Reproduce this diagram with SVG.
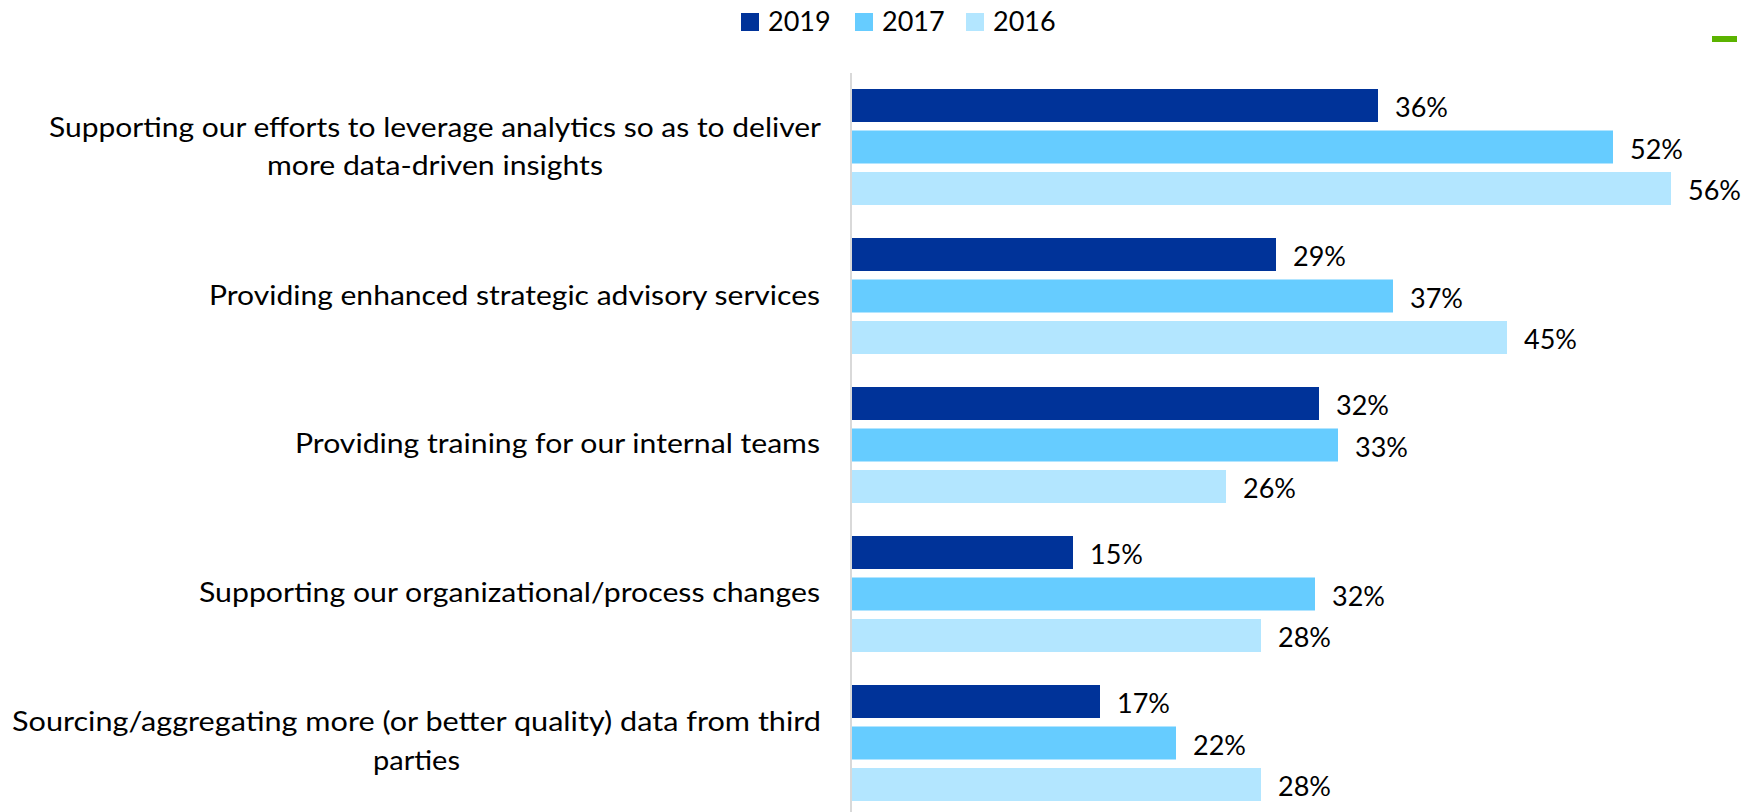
<svg xmlns="http://www.w3.org/2000/svg" width="1752" height="812" viewBox="0 0 1752 812">
<style>
text{font-family:Lato,"Liberation Sans",sans-serif;fill:#000;}
.cat{font-size:27px;}
.val{font-size:27px;}
.leg{font-size:27px;}
.b19{fill:#003399;}
.b17{fill:#66CCFF;}
.b16{fill:#B3E6FF;}
</style>
<rect x="0" y="0" width="1752" height="812" fill="#ffffff"/>
<g id="legend">
<rect class="b19" x="741" y="13" width="18" height="18"/>
<text class="leg" x="768" y="31">2019</text>
<rect class="b17" x="855" y="13" width="18" height="18"/>
<text class="leg" x="882" y="31">2017</text>
<rect class="b16" x="966" y="13" width="18" height="18"/>
<text class="leg" x="993" y="31">2016</text>
</g>
<rect id="marker-dash" x="1712" y="36" width="25" height="6" fill="#5BB300"/>
<g id="axis">
<line x1="851" y1="73" x2="851" y2="812" stroke="#D9D9D9" stroke-width="2"/>
</g>
<g id="cat1">
<text class="cat" x="435" y="137" text-anchor="middle" textLength="772" lengthAdjust="spacingAndGlyphs">Supporting our efforts to leverage analytics so as to deliver</text>
<text class="cat" x="435" y="175" text-anchor="middle" textLength="336" lengthAdjust="spacingAndGlyphs">more data-driven insights</text>
<rect class="b19" x="852" y="89" width="526" height="33"/>
<rect class="b17" x="852" y="130.5" width="761" height="33"/>
<rect class="b16" x="852" y="172" width="819" height="33"/>
<text class="val" x="1395" y="117">36%</text>
<text class="val" x="1630" y="158.5">52%</text>
<text class="val" x="1688" y="200">56%</text>
</g>
<g id="cat2">
<text class="cat" x="820" y="305" text-anchor="end" textLength="611" lengthAdjust="spacingAndGlyphs">Providing enhanced strategic advisory services</text>
<rect class="b19" x="852" y="238" width="424" height="33"/>
<rect class="b17" x="852" y="279.5" width="541" height="33"/>
<rect class="b16" x="852" y="321" width="655" height="33"/>
<text class="val" x="1293" y="266">29%</text>
<text class="val" x="1410" y="307.5">37%</text>
<text class="val" x="1524" y="349">45%</text>
</g>
<g id="cat3">
<text class="cat" x="820" y="453" text-anchor="end" textLength="525" lengthAdjust="spacingAndGlyphs">Providing training for our internal teams</text>
<rect class="b19" x="852" y="387" width="467" height="33"/>
<rect class="b17" x="852" y="428.5" width="486" height="33"/>
<rect class="b16" x="852" y="470" width="374" height="33"/>
<text class="val" x="1336" y="415">32%</text>
<text class="val" x="1355" y="456.5">33%</text>
<text class="val" x="1243" y="498">26%</text>
</g>
<g id="cat4">
<text class="cat" x="820" y="602" text-anchor="end" textLength="621" lengthAdjust="spacingAndGlyphs">Supporting our organizational/process changes</text>
<rect class="b19" x="852" y="536" width="221" height="33"/>
<rect class="b17" x="852" y="577.5" width="463" height="33"/>
<rect class="b16" x="852" y="619" width="409" height="33"/>
<text class="val" x="1090" y="564">15%</text>
<text class="val" x="1332" y="605.5">32%</text>
<text class="val" x="1278" y="647">28%</text>
</g>
<g id="cat5">
<text class="cat" x="416.5" y="731" text-anchor="middle" textLength="809" lengthAdjust="spacingAndGlyphs">Sourcing/aggregating more (or better quality) data from third</text>
<text class="cat" x="416.5" y="770" text-anchor="middle" textLength="87" lengthAdjust="spacingAndGlyphs">parties</text>
<rect class="b19" x="852" y="685" width="248" height="33"/>
<rect class="b17" x="852" y="726.5" width="324" height="33"/>
<rect class="b16" x="852" y="768" width="409" height="33"/>
<text class="val" x="1117" y="713">17%</text>
<text class="val" x="1193" y="754.5">22%</text>
<text class="val" x="1278" y="796">28%</text>
</g>
</svg>
